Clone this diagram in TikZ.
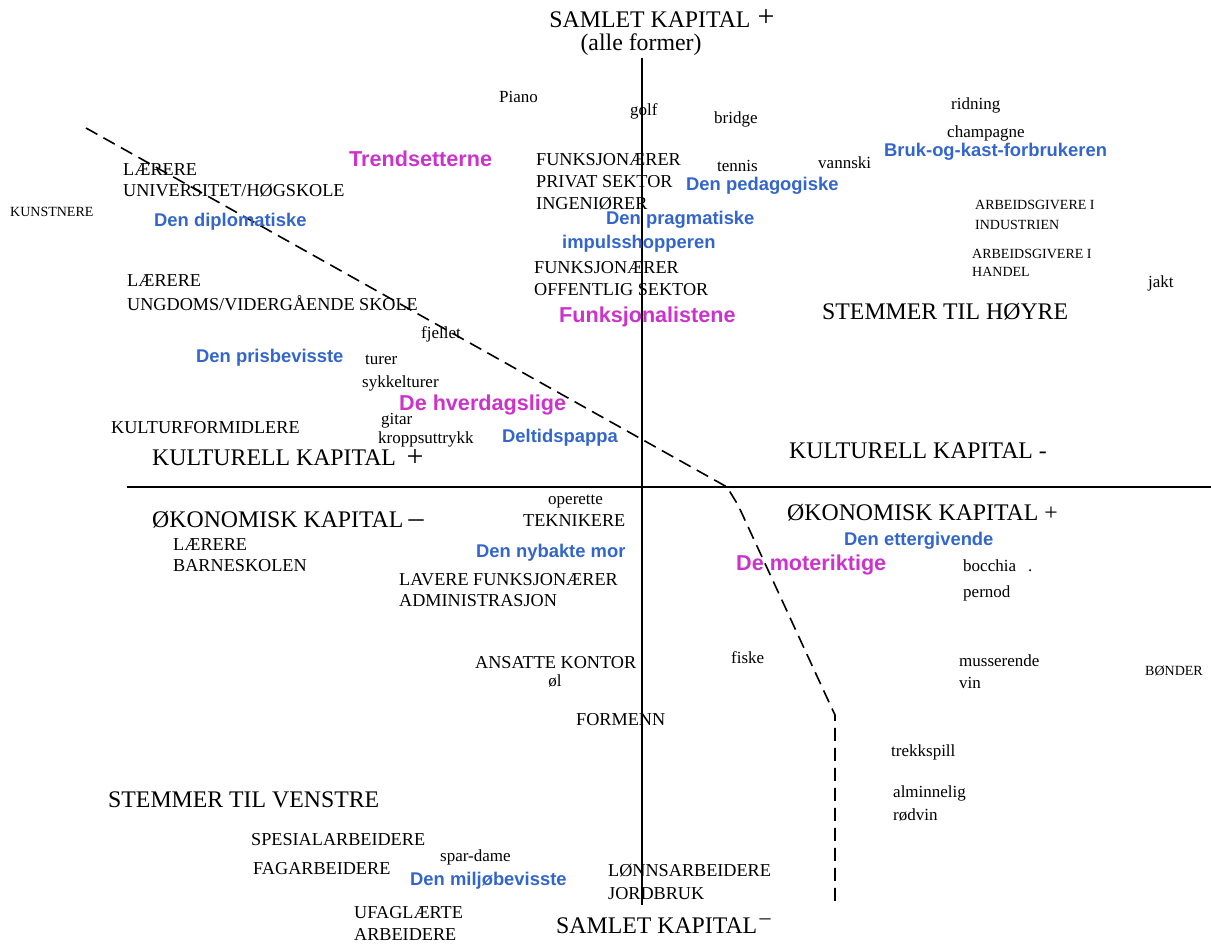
\documentclass[tikz,border=0pt]{standalone}
\usepackage{fontspec}
\setmainfont{Liberation Serif}
\newfontfamily\lsans{Liberation Sans}
\definecolor{lblue}{RGB}{51,102,204}
\definecolor{lmag}{RGB}{204,51,204}
\begin{document}
\begin{tikzpicture}[x=1pt,y=-1pt,
  txt/.style={anchor=west,inner sep=0pt},
  capt/.style={txt,font=\fontsize{18.2}{20}\selectfont},
  bigt/.style={txt,font=\fontsize{23.8}{26}\selectfont},
  smt/.style={txt,font=\fontsize{17}{19}\selectfont},
  tinyt/.style={txt,font=\fontsize{14}{16}\selectfont},
  blu/.style={txt,text=lblue,font=\lsans\bfseries\fontsize{18.4}{20}\selectfont},
  magt/.style={txt,text=lmag,font=\lsans\bfseries\fontsize{21.6}{24}\selectfont},
  pls/.style={inner sep=0pt,font=\fontsize{30}{32}\selectfont},
  axisline/.style={line width=1.6pt},
  dline/.style={line width=1.6pt,dash pattern=on 13pt off 7pt}]
\useasboundingbox (0,0) rectangle (1211,945);
% axes
\coordinate (vt) at (642,58);
\coordinate (vb) at (642,905);
\coordinate (hl) at (127,487);
\coordinate (hr) at (1211,487);
\draw[axisline] (vt) -- (vb);
\draw[axisline] (hl) -- (hr);
% dashed border
\coordinate (d1) at (86,128);
\coordinate (d2) at (727,487);
\coordinate (d3) at (738,505);
\coordinate (d4) at (828,700);
\coordinate (d5) at (835,715);
\coordinate (d6) at (835,905);
\draw[dline] (d1) -- (d2) -- (d3) -- (d4) -- (d5) -- (d6);
% top
\node[bigt,anchor=center] (sk) at (650,20) {SAMLET KAPITAL};
\node[pls] (skp) at (766,18) {+};
\node[bigt,anchor=center] (af) at (641,45) {(alle former)};
\node[smt] (piano) at (499,97) {Piano};
\node[smt] (golf) at (630,111) {golf};
\node[smt] (bridge) at (714,119) {bridge};
\node[smt] (ridning) at (951,105) {ridning};
\node[smt] (champ) at (947,133) {champagne};
\node[blu] (bruk) at (884,152) {Bruk-og-kast-forbrukeren};
\node[magt] (trend) at (349,159) {Trendsetterne};
\node[capt] (fp1) at (536,160) {FUNKSJONÆRER};
\node[capt] (fp2) at (536,182) {PRIVAT SEKTOR};
\node[capt] (ing) at (536,204) {INGENIØRER};
\node[smt] (tennis) at (717,166) {tennis};
\node[smt] (vannski) at (818,163) {vannski};
\node[blu] (ped) at (686,186) {Den pedagogiske};
\node[capt] (lu1) at (123,170) {LÆRERE};
\node[capt] (lu2) at (123,191) {UNIVERSITET/HØGSKOLE};
\node[tinyt] (kunst) at (10,212) {KUNSTNERE};
\node[blu] (dipl) at (154,222) {Den diplomatiske};
\node[blu] (prag) at (606,220) {Den pragmatiske};
\node[tinyt] (ai1) at (975,205) {ARBEIDSGIVERE I};
\node[tinyt] (ai2) at (975,225) {INDUSTRIEN};
\node[blu] (imp) at (562,244) {impulsshopperen};
\node[tinyt] (ah1) at (972,254) {ARBEIDSGIVERE I};
\node[tinyt] (ah2) at (972,272) {HANDEL};
\node[capt] (fo1) at (534,268) {FUNKSJONÆRER};
\node[capt] (fo2) at (534,290) {OFFENTLIG SEKTOR};
\node[smt] (jakt) at (1148,283) {jakt};
\node[capt] (lv1) at (127,281) {LÆRERE};
\node[capt] (lv2) at (127,303) {UNGDOMS/VIDERGÅENDE SKOLE};
\node[bigt] (hoyre) at (822,312) {STEMMER TIL HØYRE};
\node[magt] (funk) at (559,317) {Funksjonalistene};
\node[smt] (fjellet) at (421,334) {fjellet};
\node[blu] (pris) at (196,358) {Den prisbevisste};
\node[smt] (turer) at (365,360) {turer};
\node[smt] (sykkel) at (362,383) {sykkelturer};
\node[magt] (hverd) at (399,405) {De hverdagslige};
\node[smt] (gitar) at (381,421) {gitar};
\node[smt] (kropp) at (378,439) {kroppsuttrykk};
\node[capt] (kultf) at (111,428) {KULTURFORMIDLERE};
\node[blu] (delt) at (502,438) {Deltidspappa};
\node[bigt] (kkp) at (152,458) {KULTURELL KAPITAL};
\node[pls] (kkpp) at (415,458) {+};
\node[bigt] (kkm) at (789,451) {KULTURELL KAPITAL -};
% bottom half
\node[smt] (oper) at (548,502) {operette};
\node[capt] (tekn) at (523,521) {TEKNIKERE};
\node[bigt] (okm) at (152,520) {ØKONOMISK KAPITAL};
\node[pls] (okmm) at (416,524) {–};
\node[bigt] (okp) at (787,513) {ØKONOMISK KAPITAL +};
\node[capt] (lb1) at (173,545) {LÆRERE};
\node[capt] (lb2) at (173,566) {BARNESKOLEN};
\node[blu] (nyb) at (476,553) {Den nybakte mor};
\node[blu] (etter) at (844,541) {Den ettergivende};
\node[magt] (mote) at (736,565) {De moteriktige};
\node[smt] (bocc) at (963,566) {bocchia\hspace{12pt}.};
\node[capt] (lf1) at (399,580) {LAVERE FUNKSJONÆRER};
\node[capt] (lf2) at (399,601) {ADMINISTRASJON};
\node[smt] (pernod) at (963,593) {pernod};
\node[capt] (ansk) at (475,663) {ANSATTE KONTOR};
\node[smt,anchor=center] (ol) at (555,681) {øl};
\node[smt] (fiske) at (731,658) {fiske};
\node[smt] (muss) at (959,661) {musserende};
\node[smt] (vin) at (959,683) {vin};
\node[tinyt] (bond) at (1145,671) {BØNDER};
\node[capt] (form) at (576,720) {FORMENN};
\node[smt] (trekk) at (891,752) {trekkspill};
\node[smt] (almi) at (893,793) {alminnelig};
\node[smt] (rodv) at (893,815) {rødvin};
\node[bigt] (venstre) at (108,800) {STEMMER TIL VENSTRE};
\node[capt] (spes) at (251,840) {SPESIALARBEIDERE};
\node[smt] (spar) at (440,857) {spar-dame};
\node[capt] (fag) at (253,869) {FAGARBEIDERE};
\node[blu] (milj) at (410,881) {Den miljøbevisste};
\node[capt] (lj1) at (608,871) {LØNNSARBEIDERE};
\node[capt] (lj2) at (608,894) {JORDBRUK};
\node[capt] (uf1) at (354,913) {UFAGLÆRTE};
\node[capt] (uf2) at (354,935) {ARBEIDERE};
\node[bigt] (skb) at (556,926) {SAMLET KAPITAL};
\node[inner sep=0pt,font=\fontsize{22}{24}\selectfont] (skbm) at (765,922) {–};
\end{tikzpicture}
\end{document}
